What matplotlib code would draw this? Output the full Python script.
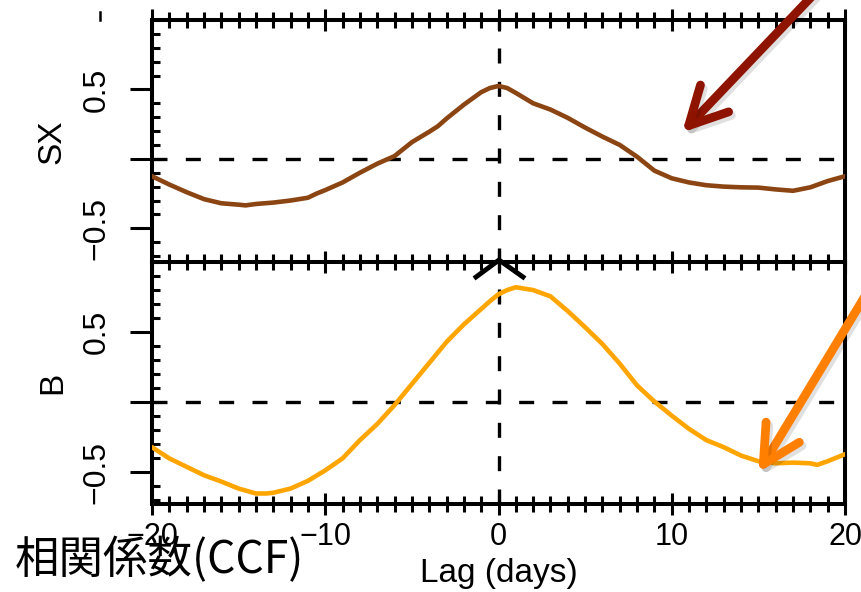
import matplotlib
matplotlib.use("Agg")
import matplotlib.pyplot as plt
import matplotlib.patheffects as pe
from matplotlib.lines import Line2D
from matplotlib.ticker import MultipleLocator

plt.rcParams['font.family'] = ['Liberation Sans', 'DejaVu Sans']

# cross-correlation vs lag, SX band
lag_sx = [-20, -19, -18, -17, -16, -15, -14.6, -14, -13, -12, -11, -10.5, -10,
          -9, -8, -7, -6, -5, -4, -3.5, -3, -2, -1, -0.5, 0, 0.5, 1, 2, 3, 4,
          5, 6, 7, 8, 9, 10, 11, 12, 13, 14, 15, 16, 17, 18, 19, 20]
ccf_sx = [-0.125, -0.185, -0.24, -0.29, -0.32, -0.33, -0.335, -0.325, -0.315,
          -0.30, -0.28, -0.25, -0.225, -0.17, -0.10, -0.035, 0.02, 0.12, 0.195,
          0.235, 0.29, 0.39, 0.48, 0.51, 0.525, 0.51, 0.475, 0.40, 0.355, 0.295,
          0.225, 0.16, 0.10, 0.015, -0.085, -0.14, -0.17, -0.19, -0.20, -0.205,
          -0.207, -0.22, -0.23, -0.205, -0.16, -0.125]

# cross-correlation vs lag, B band
lag_b = [-20, -19, -18, -17, -16, -15, -14, -13.4, -13, -12, -11, -10, -9, -8,
         -7, -6, -5, -4, -3, -2, -1, -0.5, 0, 0.5, 1, 2, 3, 4, 5, 6, 7, 8, 9,
         10, 11, 12, 13, 14, 15, 16, 17, 18, 18.4, 19, 20]
ccf_b = [-0.32, -0.40, -0.46, -0.52, -0.565, -0.615, -0.65, -0.65, -0.645,
         -0.615, -0.56, -0.485, -0.40, -0.27, -0.155, -0.02, 0.13, 0.28, 0.43,
         0.555, 0.665, 0.72, 0.77, 0.80, 0.82, 0.80, 0.755, 0.65, 0.535, 0.415,
         0.275, 0.12, 0.005, -0.095, -0.19, -0.27, -0.32, -0.38, -0.42, -0.435,
         -0.43, -0.435, -0.446, -0.42, -0.37]

W, H = 861, 592
fig = plt.figure(figsize=(W / 100, H / 100), dpi=100)


def box(x0, y0, x1, y1):
    return [x0 / W, 1 - y1 / H, (x1 - x0) / W, (y1 - y0) / H]


def style(ax, ylo):
    ax.set_xlim(-20, 20)
    ax.set_ylim(ylo, 1.0)
    for s in ax.spines.values():
        s.set_linewidth(2.9)
    ax.xaxis.set_major_locator(MultipleLocator(10))
    ax.xaxis.set_minor_locator(MultipleLocator(1))
    ax.yaxis.set_minor_locator(MultipleLocator(0.1))
    ax.set_yticks([-0.5, 0, 0.5])
    ax.set_yticklabels(['\u22120.5', '', '0.5'], rotation=90, va='center')
    ax.tick_params(axis='x', which='major', direction='inout', length=16,
                   width=2.2, top=True, bottom=True, labelsize=22, pad=5)
    ax.tick_params(axis='x', which='minor', direction='inout', length=11,
                   width=2.2, top=True, bottom=True)
    ax.tick_params(axis='y', which='major', direction='out', length=16,
                   width=2.2, labelsize=23, pad=13)
    ax.tick_params(axis='y', which='minor', direction='in', length=6, width=2.2)
    dash = (0, (4.5, 5.5))
    ax.axhline(0, color='k', lw=2.4, ls=dash, zorder=1)
    ax.axvline(0, color='k', lw=2.4, ls=dash, zorder=1)


ax1 = fig.add_axes(box(152, 20, 845, 263))
style(ax1, -0.75)
ax1.plot(lag_sx, ccf_sx, color='#8b4513', lw=3.3, zorder=3,
         solid_joinstyle='round', solid_capstyle='round')
ax1.tick_params(labelbottom=False)
ax1.set_ylabel('SX', fontsize=24, labelpad=10)

ax2 = fig.add_axes(box(152, 262, 845, 504))
style(ax2, -0.725)
ax2.plot(lag_b, ccf_b, color='#ffa500', lw=3.3, zorder=3,
         solid_joinstyle='round', solid_capstyle='round')
ax2.set_ylabel('B', fontsize=24, labelpad=10)
ax2.set_xlabel('Lag (days)', fontsize=24, labelpad=4)

# pointer arrows with a soft shadow
shadow = [pe.SimpleLineShadow(offset=(2, -2.5), shadow_color='k', alpha=0.12),
          pe.Normal()]
head = '->,head_length=27,head_width=14'
ax1.annotate('', xy=(10.6, 0.19), xycoords='data',
             xytext=(0.952, 1.02), textcoords='figure fraction',
             arrowprops=dict(arrowstyle=head, mutation_scale=1, lw=6.3,
                             color='#8f1400', shrinkA=0, shrinkB=0,
                             capstyle='round', joinstyle='round',
                             path_effects=shadow))
ax2.annotate('', xy=(15.0, -0.50), xycoords='data',
             xytext=(1.016, 0.527), textcoords='figure fraction',
             arrowprops=dict(arrowstyle=head, mutation_scale=1, lw=6.3,
                             color='#ff7f00', shrinkA=0, shrinkB=0,
                             capstyle='round', joinstyle='round',
                             path_effects=shadow))

# small black caret at the panel joint and stray tick mark at top left
fig.add_artist(Line2D([476 / W, 499 / W, 523 / W],
                      [1 - 277 / H, 1 - 260 / H, 1 - 277 / H],
                      color='k', lw=3.5, solid_joinstyle='miter'))
fig.add_artist(Line2D([100 / W, 100 / W], [1 - 12 / H, 1 - 20 / H],
                      color='k', lw=1.8))

fig.text(15 / W, 1 - 560 / H, '相関係数(CCF)', fontsize=32,
         family=['Noto Sans CJK JP', 'DejaVu Sans'], va='center', ha='left')

fig.savefig('out.png', dpi=100)
